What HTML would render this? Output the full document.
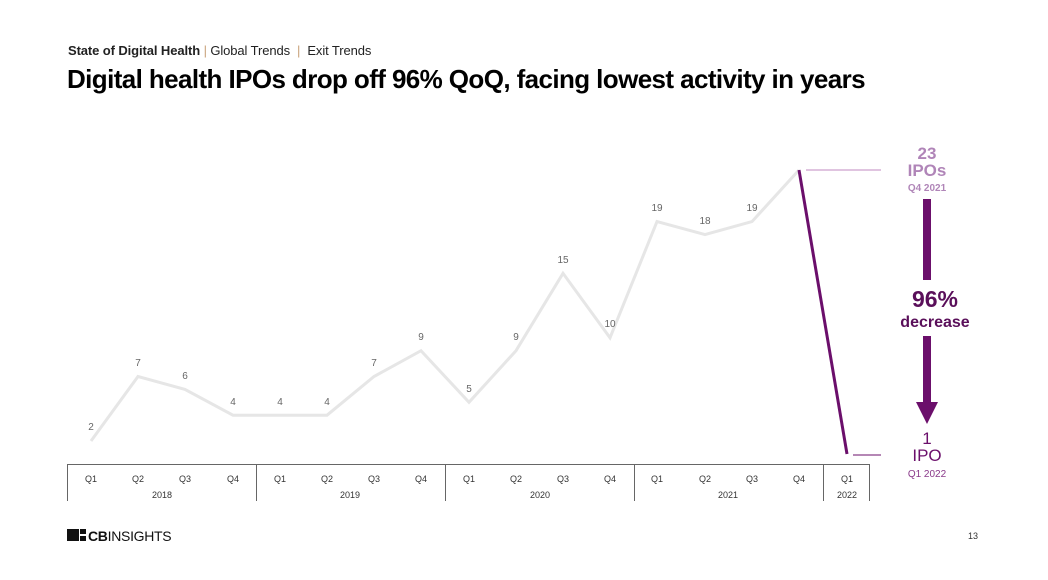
<!DOCTYPE html><html><head><style>body{margin:0;width:1048px;height:580px;background:#fff;font-family:"Liberation Sans",sans-serif;overflow:hidden;position:relative}
.t{position:absolute;white-space:nowrap}</style></head><body>
<div class="t" style="left:68px;top:43px;font-size:13px;color:#222;letter-spacing:-0.1px"><b>State of Digital Health</b> <span style="color:#c9a27a">|</span> Global Trends <span style="color:#c9a27a">&nbsp;|&nbsp;</span> Exit Trends</div>
<div class="t" style="left:67px;top:64px;font-size:26px;font-weight:bold;color:#000;letter-spacing:-0.6px">Digital health IPOs drop off 96% QoQ, facing lowest activity in years</div>
<svg width="1048" height="580" style="position:absolute;left:0;top:0" font-family="Liberation Sans, sans-serif">
<polyline fill="none" stroke="#e6e6e6" stroke-width="3" points="91,441 138,376.5 185,389.4 233,415.2 280,415.2 327,415.2 374,376.5 421,350.7 469,402.3 516,350.7 563,273.3 610,337.8 657,221.6 705,234.6 752,221.6 799,170"/>
<line x1="799" y1="170" x2="847" y2="454" stroke="#6b0f6b" stroke-width="3"/>
<line x1="806" y1="170" x2="881" y2="170" stroke="#c08ac0" stroke-width="1"/>
<line x1="853" y1="455" x2="881" y2="455" stroke="#6b0f6b" stroke-width="1"/>
<g font-size="10" fill="#666" text-anchor="middle">
<text x="91" y="430">2</text><text x="138" y="366">7</text><text x="185" y="379">6</text><text x="233" y="405">4</text><text x="280" y="405">4</text><text x="327" y="405">4</text><text x="374" y="366">7</text><text x="421" y="340">9</text><text x="469" y="392">5</text><text x="516" y="340">9</text><text x="563" y="263">15</text><text x="610" y="327">10</text><text x="657" y="211">19</text><text x="705" y="224">18</text><text x="752" y="211">19</text>
</g>
<g stroke="#666" stroke-width="1"><line x1="67" y1="464.5" x2="870" y2="464.5"/>
<line x1="67.5" y1="464" x2="67.5" y2="501"/><line x1="256.5" y1="464" x2="256.5" y2="501"/><line x1="445.5" y1="464" x2="445.5" y2="501"/><line x1="634.5" y1="464" x2="634.5" y2="501"/><line x1="823.5" y1="464" x2="823.5" y2="501"/><line x1="869.5" y1="464" x2="869.5" y2="501"/></g>
<g font-size="9" fill="#333" text-anchor="middle">
<text x="91" y="482">Q1</text><text x="138" y="482">Q2</text><text x="185" y="482">Q3</text><text x="233" y="482">Q4</text><text x="280" y="482">Q1</text><text x="327" y="482">Q2</text><text x="374" y="482">Q3</text><text x="421" y="482">Q4</text><text x="469" y="482">Q1</text><text x="516" y="482">Q2</text><text x="563" y="482">Q3</text><text x="610" y="482">Q4</text><text x="657" y="482">Q1</text><text x="705" y="482">Q2</text><text x="752" y="482">Q3</text><text x="799" y="482">Q4</text><text x="847" y="482">Q1</text>
<text x="162" y="498">2018</text><text x="350" y="498">2019</text><text x="540" y="498">2020</text><text x="728" y="498">2021</text><text x="847" y="498">2022</text></g>
<g text-anchor="middle" font-weight="bold">
<text x="927" y="159" font-size="17" fill="#b085b8">23</text>
<text x="927" y="176" font-size="17" fill="#b085b8">IPOs</text>
<text x="927" y="191" font-size="10" fill="#b085b8">Q4 2021</text>
<rect x="923" y="199" width="8" height="81" fill="#6b0f6b"/>
<text x="935" y="307" font-size="23" fill="#5a0f5a">96%</text>
<text x="935" y="327" font-size="16" fill="#5a0f5a">decrease</text>
<rect x="923" y="336" width="8" height="67" fill="#6b0f6b"/>
<polygon points="916,402 938,402 927,424" fill="#6b0f6b"/>
<text x="927" y="444" font-size="17" fill="#6b0f6b" font-weight="normal">1</text>
<text x="927" y="461" font-size="17" fill="#6b0f6b" font-weight="normal">IPO</text>
<text x="927" y="477" font-size="10" fill="#8a3a8a" font-weight="normal">Q1 2022</text></g>
<rect x="67" y="529" width="12" height="12" fill="#111"/><rect x="80" y="529" width="6" height="5" fill="#111"/><rect x="80" y="536" width="6" height="5" fill="#111"/>
<text x="88" y="541" font-size="14" fill="#111" letter-spacing="-0.3"><tspan font-weight="bold">CB</tspan>INSIGHTS</text>
<text x="968" y="539" font-size="9" fill="#333">13</text>
</svg>
</body></html>
